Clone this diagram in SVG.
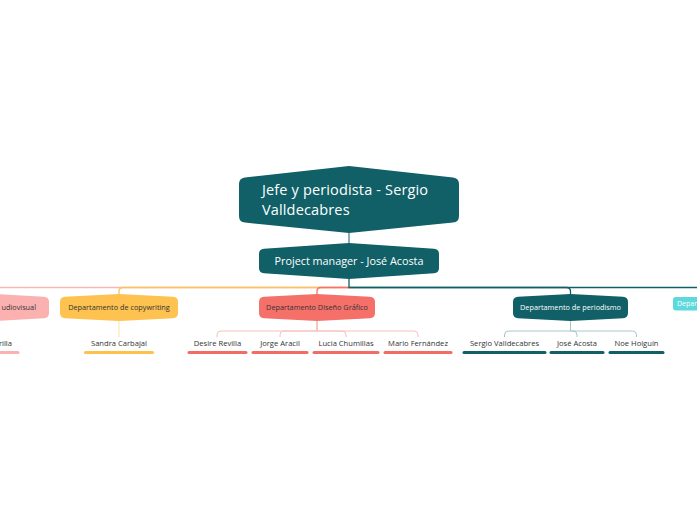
<svg xmlns="http://www.w3.org/2000/svg" width="697" height="520" viewBox="0 0 697 520">
<style>
text{font-family:"Open Sans","Noto Sans",sans-serif}
.root{font-size:14.5px;fill:#ffffff;letter-spacing:0.15px}
.pm{font-size:10.8px;fill:#ffffff;text-anchor:middle}
.dept{font-size:7.3px;fill:#333333;text-anchor:middle}
.deptw{font-size:7.3px;fill:#ffffff;text-anchor:middle}
.leaf{font-size:7.6px;fill:#333333;text-anchor:middle}
.teal{fill:#115f67}
.c{fill:none;stroke-width:1.3}
.lc{fill:none;stroke-width:1}
.bar{stroke-width:3;stroke-linecap:round}
</style>
<rect width="697" height="520" fill="#ffffff"/>
<g id="connectors">
  <path class="lc" stroke="#115f67" d="M349 233 V243"/>
  <path class="c" stroke="#fcb6b6" d="M349 287.5 H-10"/>
  <path class="c" stroke="#fdc25c" d="M349 287.5 H123 Q119 287.5 119 291.5 V295"/>
  <path class="c" stroke="#f6736d" d="M349 287.5 H321 Q317 287.5 317 291.5 V296"/>
  <path class="c" stroke="#115f67" d="M349 279 V287.5 H697"/>
  <path class="c" stroke="#115f67" d="M349 287.5 H566.5 Q570.5 287.5 570.5 291.5 V296"/>
  <path class="lc" stroke="#fde2a6" d="M119 321 V337"/>
  <path class="lc" stroke="#f8c0bb" d="M317 321 V331 H221 Q217 331 217 335 V337"/>
  <path class="lc" stroke="#f8c0bb" d="M317 321 V331 H284 Q280 331 280 335 V337"/>
  <path class="lc" stroke="#f8c0bb" d="M317 321 V331 H342 Q346 331 346 335 V337"/>
  <path class="lc" stroke="#f8c0bb" d="M317 321 V331 H414 Q418 331 418 335 V337"/>
  <path class="lc" stroke="#a8c6c9" d="M570.5 321 V331 H508.5 Q504.5 331 504.5 335 V337"/>
  <path class="lc" stroke="#a8c6c9" d="M570.5 321 V331 H573 Q577 331 577 335 V337"/>
  <path class="lc" stroke="#a8c6c9" d="M570.5 321 V331 H632.5 Q636.5 331 636.5 335 V337"/>
</g>
<g id="root">
  <path class="teal" d="M239 184 Q239 178 245 177.4 L349 166 L453 177.4 Q459 178 459 184 V216 Q459 222 453 222.6 L349 233 L245 222.6 Q239 222 239 216 Z"/>
  <text class="root" x="262" y="195">Jefe y periodista - Sergio</text>
  <text class="root" x="262" y="215">Valldecabres</text>
</g>
<g id="pm">
  <path class="teal" d="M259 254 Q259 249 264 248.8 L349 243 L434 248.8 Q439 249 439 254 V268 Q439 273 434 273.3 L349 279 L264 273.3 Q259 273 259 268 Z"/>
  <text class="pm" x="349" y="264.5">Project manager - José Acosta</text>
</g>
<g id="dept-audiovisual">
  <path fill="#fcb1b1" d="M-60 302 Q-60 297 -55 296.8 L-5 294 L44 296.8 Q49 297 49 302 V313 Q49 318 44 318.2 L-5 321 L-55 318.2 Q-60 318 -60 313 Z"/>
  <text class="dept" x="36" y="310" style="text-anchor:end">udiovisual</text>
</g>
<g id="dept-copywriting">
  <path fill="#fdc24f" d="M60 302 Q60 297 65 296.8 L119 294 L173 296.8 Q178 297 178 302 V313 Q178 318 173 318.2 L119 321 L65 318.2 Q60 318 60 313 Z"/>
  <text class="dept" x="119" y="310">Departamento de copywriting</text>
</g>
<g id="dept-diseno">
  <path fill="#f6706a" d="M259 302 Q259 297 264 296.8 L317 294 L370 296.8 Q375 297 375 302 V313 Q375 318 370 318.2 L317 321 L264 318.2 Q259 318 259 313 Z"/>
  <text class="dept" x="317" y="310">Departamento Diseño Gráfico</text>
</g>
<g id="dept-periodismo">
  <path class="teal" d="M513 302 Q513 297 518 296.8 L570.5 294 L623 296.8 Q628 297 628 302 V313 Q628 318 623 318.2 L570.5 321 L518 318.2 Q513 318 513 313 Z"/>
  <text class="deptw" x="570.5" y="310">Departamento de periodismo</text>
</g>
<g id="dept-cyan">
  <rect x="673" y="297" width="40" height="13.5" rx="3" fill="#5dd8dd"/>
  <text class="deptw" x="677" y="306" style="text-anchor:start;font-size:7px">Depar</text>
</g>
<g id="leaf-rilla">
  <text class="leaf" x="12" y="346" style="text-anchor:end">rilla</text>
  <line class="bar" stroke="#fbb1b1" x1="-10" y1="352.5" x2="18" y2="352.5"/>
</g>
<g id="leaf-sandra">
  <text class="leaf" x="119" y="346">Sandra Carbajal</text>
  <line class="bar" stroke="#fcc24c" x1="85.5" y1="352.5" x2="152.5" y2="352.5"/>
</g>
<g id="leaf-desire">
  <text class="leaf" x="217.5" y="346">Desire Revilla</text>
  <line class="bar" stroke="#f26b65" x1="189" y1="352.5" x2="246" y2="352.5"/>
</g>
<g id="leaf-jorge">
  <text class="leaf" x="280" y="346">Jorge Aracil</text>
  <line class="bar" stroke="#f26b65" x1="253" y1="352.5" x2="307" y2="352.5"/>
</g>
<g id="leaf-lucia">
  <text class="leaf" x="346" y="346">Lucia Chumillas</text>
  <line class="bar" stroke="#f26b65" x1="314" y1="352.5" x2="378" y2="352.5"/>
</g>
<g id="leaf-mario">
  <text class="leaf" x="418" y="346">Mario Fernández</text>
  <line class="bar" stroke="#f26b65" x1="385" y1="352.5" x2="451" y2="352.5"/>
</g>
<g id="leaf-sergio">
  <text class="leaf" x="504.5" y="346">Sergio Valldecabres</text>
  <line class="bar" stroke="#115f67" x1="464" y1="352.5" x2="545" y2="352.5"/>
</g>
<g id="leaf-jose">
  <text class="leaf" x="577" y="346">José Acosta</text>
  <line class="bar" stroke="#115f67" x1="551" y1="352.5" x2="603" y2="352.5"/>
</g>
<g id="leaf-noe">
  <text class="leaf" x="636.5" y="346">Noe Holguín</text>
  <line class="bar" stroke="#115f67" x1="610" y1="352.5" x2="663" y2="352.5"/>
</g>
</svg>
